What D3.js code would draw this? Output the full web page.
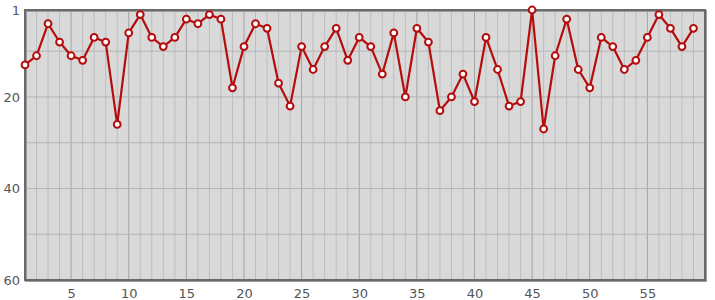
<!doctype html>
<html>
<head>
<meta charset="utf-8">
<script src="https://d3js.org/d3.v7.min.js"></script>
<style>
  body { margin: 0; background: #fff; }
  .tick text { font-family: "DejaVu Sans", sans-serif; font-size: 13px; fill: #555; }
</style>
</head>
<body>
<svg width="715" height="300"></svg>
<script>
// ranks, one per step 1..59 (lower is better, axis inverted)
var steps = d3.range(1, 60);
var ranks = [13, 11, 4, 8, 11, 12, 7, 8, 26, 6,
             2, 7, 9, 7, 3, 4, 2, 3, 18, 9,
             4, 5, 17, 22, 9, 14, 9, 5, 12, 7,
             9, 15, 6, 20, 5, 8, 23, 20, 15, 21,
             7, 14, 22, 21, 1, 27, 11, 3, 14, 18,
             7, 9, 14, 12, 7, 2, 5, 9, 5];
var xTicks = [5, 10, 15, 20, 25, 30, 35, 40, 45, 50, 55];
var yTicks = [1, 20, 40, 60];
var yGrid = [10, 20, 30, 40, 50];

var svg = d3.select("svg");
var plotL = 25, plotR = 705, plotT = 10, plotB = 280;

var x = d3.scaleLinear().domain([1, 60]).range([plotL, plotR]);
var y = d3.scaleLinear().domain([1, 60]).range([plotT, plotB]);

// background
svg.append("rect")
   .attr("x", plotL).attr("y", plotT)
   .attr("width", plotR - plotL).attr("height", plotB - plotT)
   .attr("fill", "#d9d9d9");

// vertical grid
svg.append("g").selectAll("line")
   .data(d3.range(2, 60))
   .enter().append("line")
   .attr("x1", function(d) { return x(d); })
   .attr("x2", function(d) { return x(d); })
   .attr("y1", plotT).attr("y2", plotB)
   .attr("stroke", function(d) { return d % 5 == 0 ? "#a3a3a3" : "#bdbdbd"; })
   .attr("stroke-width", 1);

// horizontal grid
svg.append("g").selectAll("line")
   .data(yGrid)
   .enter().append("line")
   .attr("x1", plotL).attr("x2", plotR)
   .attr("y1", function(d) { return y(d); })
   .attr("y2", function(d) { return y(d); })
   .attr("stroke", "#b5b5b5")
   .attr("stroke-width", 1);

// frame with a little shadow
svg.append("rect")
   .attr("x", plotL + 1).attr("y", plotT + 1)
   .attr("width", plotR - plotL).attr("height", plotB - plotT)
   .attr("fill", "none")
   .attr("stroke", "#9a9a9a")
   .attr("stroke-width", 2);
svg.append("rect")
   .attr("x", plotL).attr("y", plotT)
   .attr("width", plotR - plotL).attr("height", plotB - plotT)
   .attr("fill", "none")
   .attr("stroke", "#6a6a6a")
   .attr("stroke-width", 2);

// axes (labels only)
var xAxis = svg.append("g")
   .attr("transform", "translate(0," + plotB + ")")
   .call(d3.axisBottom(x).tickValues(xTicks).tickSize(0).tickPadding(9));
xAxis.select(".domain").remove();

var yAxis = svg.append("g")
   .attr("transform", "translate(" + plotL + ",0)")
   .call(d3.axisLeft(y).tickValues(yTicks).tickSize(0).tickPadding(5));
yAxis.select(".domain").remove();

// line
var line = d3.line()
   .x(function(d, i) { return x(steps[i]); })
   .y(function(d) { return y(d); });

svg.append("path")
   .datum(ranks)
   .attr("d", line)
   .attr("fill", "none")
   .attr("stroke", "#b50d0d")
   .attr("stroke-width", 2.2)
   .attr("stroke-linejoin", "round");

svg.append("g").selectAll("circle")
   .data(ranks)
   .enter().append("circle")
   .attr("cx", function(d, i) { return x(steps[i]); })
   .attr("cy", function(d) { return y(d); })
   .attr("r", 3.4)
   .attr("fill", "#fff")
   .attr("stroke", "#b50d0d")
   .attr("stroke-width", 2);
</script>
</body>
</html>
